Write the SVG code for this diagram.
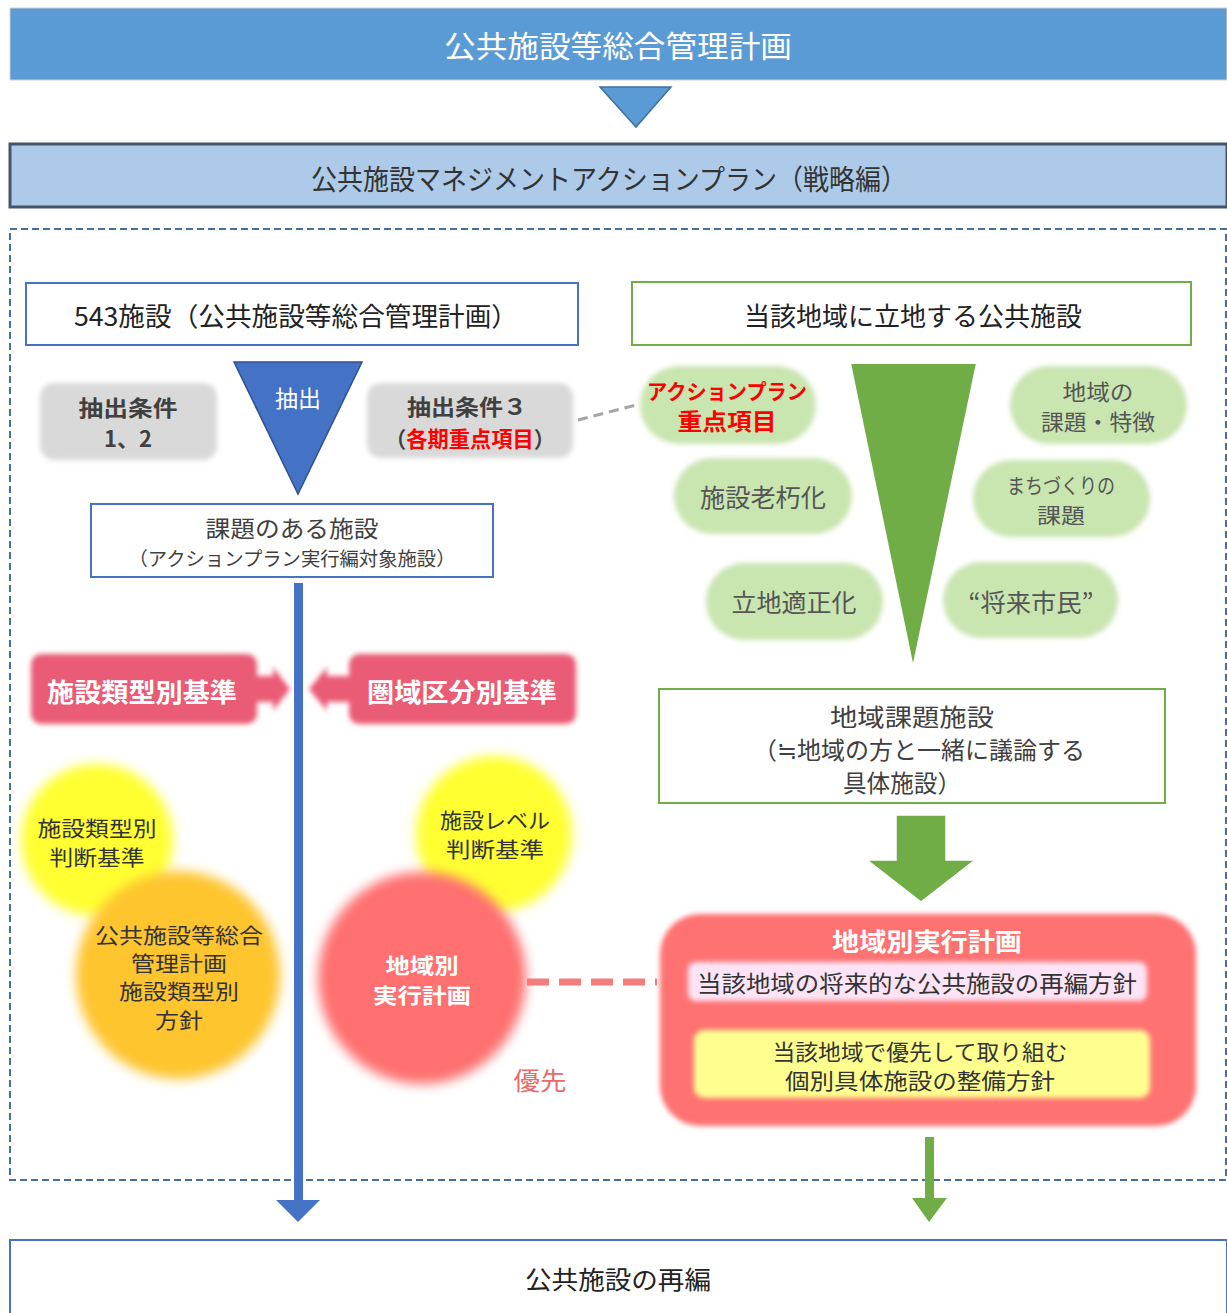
<svg xmlns="http://www.w3.org/2000/svg" width="1227" height="1313" viewBox="0 0 1227 1313">
<defs>
<style>
text{font-family:"Noto Sans CJK JP","Noto Sans",sans-serif;text-anchor:middle;dominant-baseline:central;fill:#404040}
text.w{fill:#fff}
.b{font-weight:bold}
text.r,tspan.r{fill:#FF0000}
text.g5{fill:#555}
text.d3{fill:#333}
text.d2{fill:#222}
text.pr{fill:#E86A6A}
.box{fill:#fff;stroke-width:2}
</style>
<filter id="soft" x="-20%" y="-20%" width="140%" height="140%"><feGaussianBlur stdDeviation="2.5"/></filter>
<filter id="blur" x="-30%" y="-30%" width="160%" height="160%"><feGaussianBlur stdDeviation="6"/></filter>
</defs>

<g id="top">
<rect x="10" y="8" width="1217" height="72" fill="#5B9BD5" stroke="#D0D0D0" stroke-width="1"/>
<text class="w" x="618" y="44" font-size="30" textLength="348" lengthAdjust="spacingAndGlyphs">公共施設等総合管理計画</text>
</g>

<g id="strategy">
<rect x="10" y="144" width="1217" height="63" fill="#ADCBE8" stroke="#44546A" stroke-width="3"/>
<text class="d3" x="609" y="178" font-size="28" textLength="596" lengthAdjust="spacingAndGlyphs">公共施設マネジメントアクションプラン（戦略編）</text>
</g>

<rect id="container" x="10" y="229" width="1216" height="951" fill="none" stroke="#41719C" stroke-width="2" stroke-dasharray="7,4"/>

<g id="connectors">
<polygon points="600,87 671,87 636,127" fill="#5B9BD5" stroke="#41719C" stroke-width="1.5"/>
<line x1="578" y1="420" x2="636" y2="405" stroke="#A6A6A6" stroke-width="3" stroke-dasharray="10,6"/>
<rect x="294" y="583" width="9" height="620" fill="#4472C4"/>
<polygon points="276,1200 320,1200 298,1222" fill="#4472C4"/>
<line x1="527" y1="982" x2="657" y2="982" stroke="#F47C7C" stroke-width="7" stroke-dasharray="22,10"/>
<rect x="925" y="1137" width="9" height="63" fill="#70AD47"/>
<polygon points="912,1198 947,1198 929,1222" fill="#70AD47"/>
<polygon points="896,815 946,815 946,860 975,860 921,902 867,860 896,860" fill="#70AD47" stroke="#fff" stroke-width="1.5"/>
</g>

<g id="n543">
<rect class="box" x="26" y="283" width="552" height="62" stroke="#4472C4"/>
<text class="d2" x="296" y="314" font-size="26" textLength="444" lengthAdjust="spacingAndGlyphs">543施設（公共施設等総合管理計画）</text>
</g>

<g id="nLocal">
<rect class="box" x="632" y="282" width="559" height="63" stroke="#70AD47" stroke-width="2.5"/>
<text class="d2" x="913" y="314" font-size="26" textLength="338" lengthAdjust="spacingAndGlyphs">当該地域に立地する公共施設</text>
</g>

<g id="cond12">
<rect x="40" y="383" width="177" height="77" rx="14" fill="#D9D9D9" filter="url(#soft)"/>
<text class="b" x="128" y="406" font-size="22" textLength="99" lengthAdjust="spacingAndGlyphs">抽出条件</text>
<text class="b" x="128" y="437" font-size="22">1、2</text>
</g>

<g id="extract">
<polygon points="234,362 362,362 298,494" fill="#4472C4" stroke="#2F528F" stroke-width="1.5"/>
<text class="w" x="298" y="397" font-size="23">抽出</text>
</g>

<g id="cond3">
<rect x="367" y="383" width="206" height="75" rx="14" fill="#D9D9D9" filter="url(#soft)"/>
<text class="b" x="467" y="405" font-size="22" textLength="120" lengthAdjust="spacingAndGlyphs">抽出条件３</text>
<text class="b" x="470" y="437" font-size="22" textLength="170" lengthAdjust="spacingAndGlyphs">（<tspan class="r">各期重点項目</tspan>）</text>
</g>

<g id="issueFac">
<rect class="box" x="91" y="504" width="402" height="73" stroke="#4472C4"/>
<text x="292" y="527" font-size="23" textLength="173" lengthAdjust="spacingAndGlyphs">課題のある施設</text>
<text x="292" y="557" font-size="19" textLength="327" lengthAdjust="spacingAndGlyphs">（アクションプラン実行編対象施設）</text>
</g>

<g id="greenFunnel">
<polygon points="850,363 977,363 913,668" fill="#70AD47" stroke="#fff" stroke-width="2"/>
</g>

<g id="pAP">
<rect x="640" y="366" width="176" height="78" rx="39" fill="#C9E5B0" filter="url(#soft)"/>
<text class="b r" x="727" y="390" font-size="21" textLength="160" lengthAdjust="spacingAndGlyphs">アクションプラン</text>
<text class="b r" x="727" y="420" font-size="23" textLength="99" lengthAdjust="spacingAndGlyphs">重点項目</text>
</g>
<g id="pRegion">
<rect x="1010" y="366" width="177" height="78" rx="39" fill="#C9E5B0" filter="url(#soft)"/>
<text class="g5" x="1098" y="390" font-size="22" textLength="71" lengthAdjust="spacingAndGlyphs">地域の</text>
<text class="g5" x="1098" y="420" font-size="22" textLength="114" lengthAdjust="spacingAndGlyphs">課題・特徴</text>
</g>
<g id="pAging">
<rect x="674" y="458" width="178" height="76" rx="38" fill="#C9E5B0" filter="url(#soft)"/>
<text class="g5" x="763" y="496" font-size="25" textLength="126" lengthAdjust="spacingAndGlyphs">施設老朽化</text>
</g>
<g id="pTown">
<rect x="973" y="460" width="177" height="77" rx="38" fill="#C9E5B0" filter="url(#soft)"/>
<text class="g5" x="1061" y="484" font-size="21" textLength="108" lengthAdjust="spacingAndGlyphs">まちづくりの</text>
<text class="g5" x="1061" y="514" font-size="21" textLength="48" lengthAdjust="spacingAndGlyphs">課題</text>
</g>
<g id="pSite">
<rect x="706" y="563" width="177" height="77" rx="38" fill="#C9E5B0" filter="url(#soft)"/>
<text class="g5" x="794" y="601" font-size="25" textLength="125" lengthAdjust="spacingAndGlyphs">立地適正化</text>
</g>
<g id="pFuture">
<rect x="943" y="562" width="175" height="76" rx="38" fill="#C9E5B0" filter="url(#soft)"/>
<text class="g5" x="1031" y="601" font-size="25" textLength="125" lengthAdjust="spacingAndGlyphs">“将来市民”</text>
</g>

<g id="typeStd">
<g filter="url(#soft)" fill="#EA5C74">
<rect x="31" y="654" width="226" height="70" rx="10"/>
<polygon points="255,676 273,676 273,667 290,689 273,711 273,702 255,702"/>
</g>
<text class="w b" x="142" y="690" font-size="26" textLength="190" lengthAdjust="spacingAndGlyphs">施設類型別基準</text>
</g>
<g id="areaStd">
<g filter="url(#soft)" fill="#EA5C74">
<rect x="349" y="654" width="227" height="70" rx="10"/>
<polygon points="351,676 327,676 327,667 309,689 327,711 327,702 351,702"/>
</g>
<text class="w b" x="462" y="690" font-size="26" textLength="190" lengthAdjust="spacingAndGlyphs">圏域区分別基準</text>
</g>

<g id="cTypeJudge">
<circle cx="97" cy="840" r="76" fill="#FFFF30" filter="url(#blur)"/>
</g>
<g id="cLevelJudge">
<circle cx="494" cy="834" r="78" fill="#FFFF30" filter="url(#blur)"/>
</g>
<g id="cTypePolicy">
<ellipse cx="178" cy="975" rx="102" ry="104" fill="#FFC52F" filter="url(#blur)"/>
</g>
<g id="cRegionPlan">
<ellipse cx="422" cy="978" rx="104" ry="106" fill="#FF7070" filter="url(#blur)"/>
</g>
<g id="circleTexts">
<text class="d3" x="97" y="827" font-size="21" textLength="119" lengthAdjust="spacingAndGlyphs">施設類型別</text>
<text class="d3" x="97" y="856" font-size="21" textLength="95" lengthAdjust="spacingAndGlyphs">判断基準</text>
<text class="d3" x="495" y="819" font-size="21" textLength="110" lengthAdjust="spacingAndGlyphs">施設レベル</text>
<text class="d3" x="495" y="848" font-size="21" textLength="98" lengthAdjust="spacingAndGlyphs">判断基準</text>
<text class="d3" x="179" y="934" font-size="21" textLength="168" lengthAdjust="spacingAndGlyphs">公共施設等総合</text>
<text class="d3" x="179" y="962" font-size="21" textLength="96" lengthAdjust="spacingAndGlyphs">管理計画</text>
<text class="d3" x="179" y="990" font-size="21" textLength="120" lengthAdjust="spacingAndGlyphs">施設類型別</text>
<text class="d3" x="179" y="1019" font-size="21" textLength="48" lengthAdjust="spacingAndGlyphs">方針</text>
<text class="w b" x="422" y="964" font-size="21" textLength="73" lengthAdjust="spacingAndGlyphs">地域別</text>
<text class="w b" x="422" y="994" font-size="21" textLength="98" lengthAdjust="spacingAndGlyphs">実行計画</text>
</g>
<g id="priority">
<text class="pr" x="540" y="1079" font-size="25" textLength="53" lengthAdjust="spacingAndGlyphs">優先</text>
</g>

<g id="regionFac">
<rect class="box" x="659" y="689" width="506" height="114" stroke="#70AD47" stroke-width="2.5"/>
<text x="912" y="715" font-size="24" textLength="164" lengthAdjust="spacingAndGlyphs">地域課題施設</text>
<text x="919" y="748" font-size="24" textLength="332" lengthAdjust="spacingAndGlyphs">（≒地域の方と一緒に議論する</text>
<text x="902" y="781" font-size="24" textLength="118" lengthAdjust="spacingAndGlyphs">具体施設）</text>
</g>

<g id="regionPlan">
<rect x="660" y="914" width="536" height="212" rx="40" fill="#FF7272" filter="url(#soft)"/>
<text class="w b" x="927" y="940" font-size="25" textLength="190" lengthAdjust="spacingAndGlyphs">地域別実行計画</text>
<rect x="688" y="962" width="459" height="39" rx="8" fill="#FCE4F6" filter="url(#soft)"/>
<text class="d3" x="917" y="982" font-size="23" textLength="440" lengthAdjust="spacingAndGlyphs">当該地域の将来的な公共施設の再編方針</text>
<rect x="694" y="1030" width="456" height="68" rx="10" fill="#FFFF8F" filter="url(#soft)"/>
<text class="d3" x="920" y="1050" font-size="22" textLength="295" lengthAdjust="spacingAndGlyphs">当該地域で優先して取り組む</text>
<text class="d3" x="920" y="1079" font-size="22" textLength="270" lengthAdjust="spacingAndGlyphs">個別具体施設の整備方針</text>
</g>

<g id="reorg">
<rect class="box" x="10" y="1240" width="1217" height="80" stroke="#4472C4"/>
<text class="d2" x="618" y="1278" font-size="25" textLength="186" lengthAdjust="spacingAndGlyphs">公共施設の再編</text>
</g>
</svg>
